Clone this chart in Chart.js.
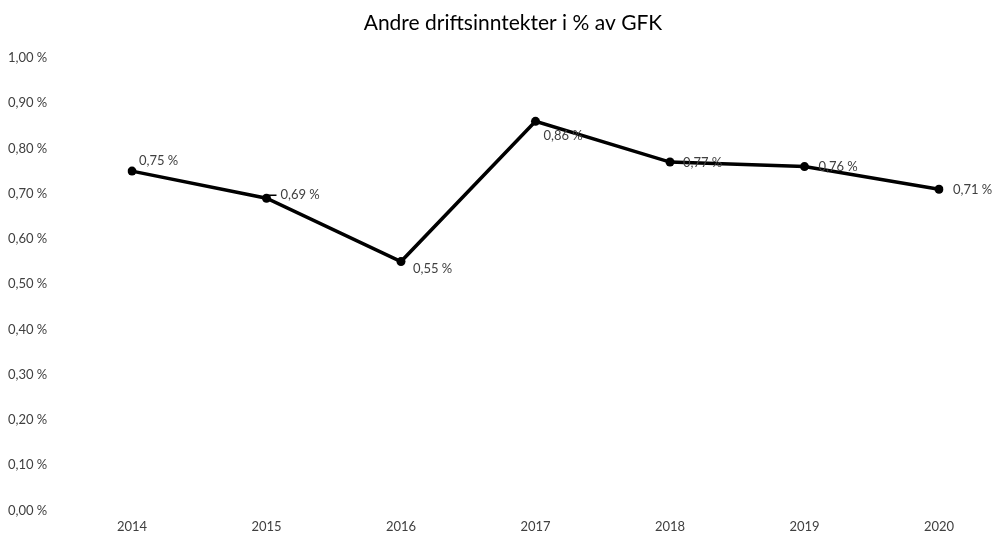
<!DOCTYPE html>
<html>
<head>
<meta charset="utf-8">
<script src="https://cdn.jsdelivr.net/npm/chart.js@4"></script>
<style>
  html, body { margin: 0; padding: 0; background: #fff; }
  #wrap { width: 994px; height: 533px; }
</style>
</head>
<body>
<div id="wrap"><canvas id="chart"></canvas></div>
<script>
// data
const years = ["2014", "2015", "2016", "2017", "2018", "2019", "2020"];
const shares = [0.75, 0.69, 0.55, 0.86, 0.77, 0.76, 0.71];
const chartTitle = 'Andre driftsinntekter i % av GFK';

const fmt = v => v.toFixed(2).replace('.', ',') + '\u202f%';

// label offsets relative to each point (dx, dy)
const labelShift = [[7, -10], [14, -3], [12, 7], [8, 14], [13, 1], [14, 0], [14, 1]];

const pointLabels = {
    id: 'pointLabels',
    afterDatasetsDraw(chart) {
        const ctx = chart.ctx;
        const meta = chart.getDatasetMeta(0);
        ctx.save();
        ctx.font = '13px Lato';
        ctx.fillStyle = '#404040';
        ctx.textBaseline = 'middle';
        ctx.textAlign = 'left';
        meta.data.forEach((pt, i) => {
            const s = labelShift[i];
            ctx.fillText(fmt(shares[i]), pt.x + s[0], pt.y + s[1]);
        });
        // small leader line on the 2015 label, as in the original
        const p = meta.data[1];
        ctx.strokeStyle = '#000';
        ctx.lineWidth = 1.5;
        ctx.beginPath();
        ctx.moveTo(p.x + 2, p.y - 3);
        ctx.lineTo(p.x + 10, p.y - 3);
        ctx.stroke();
        ctx.restore();
    }
};

// title drawn by hand so it can sit off-centre like the original
const titleText = {
    id: 'titleText',
    afterDraw(chart) {
        const ctx = chart.ctx;
        ctx.save();
        ctx.font = '21px Lato';
        ctx.fillStyle = '#000';
        ctx.textAlign = 'center';
        ctx.textBaseline = 'middle';
        ctx.fillText(chartTitle, 513, 23);
        ctx.restore();
    }
};

new Chart(document.getElementById('chart'), {
    type: 'line',
    data: {
        labels: years,
        datasets: [{
            data: shares,
            borderColor: '#000',
            backgroundColor: '#000',
            borderWidth: 3.5,
            pointRadius: 4.5,
            pointBackgroundColor: '#000',
            pointBorderWidth: 0,
            tension: 0
        }]
    },
    options: {
        responsive: true,
        maintainAspectRatio: false,
        animation: false,
        layout: { padding: { left: 8, right: 55, top: 58, bottom: -11 } },
        plugins: {
            legend: { display: false },
            tooltip: { enabled: false },
            title: { display: false }
        },
        scales: {
            x: {
                offset: false,
                grid: { display: false, drawTicks: false },
                border: { display: false },
                ticks: { color: '#404040', font: { family: 'Lato', size: 13 }, padding: 9, maxRotation: 0 }
            },
            y: {
                min: 0,
                max: 1,
                afterFit(axis) { axis.width = 124; },
                grid: { display: false, drawTicks: false },
                border: { display: false },
                ticks: {
                    stepSize: 0.1,
                    crossAlign: 'far',
                    color: '#404040',
                    font: { family: 'Lato', size: 13 },
                    callback: v => fmt(v)
                }
            }
        }
    },
    plugins: [pointLabels, titleText]
});
</script>
</body>
</html>
